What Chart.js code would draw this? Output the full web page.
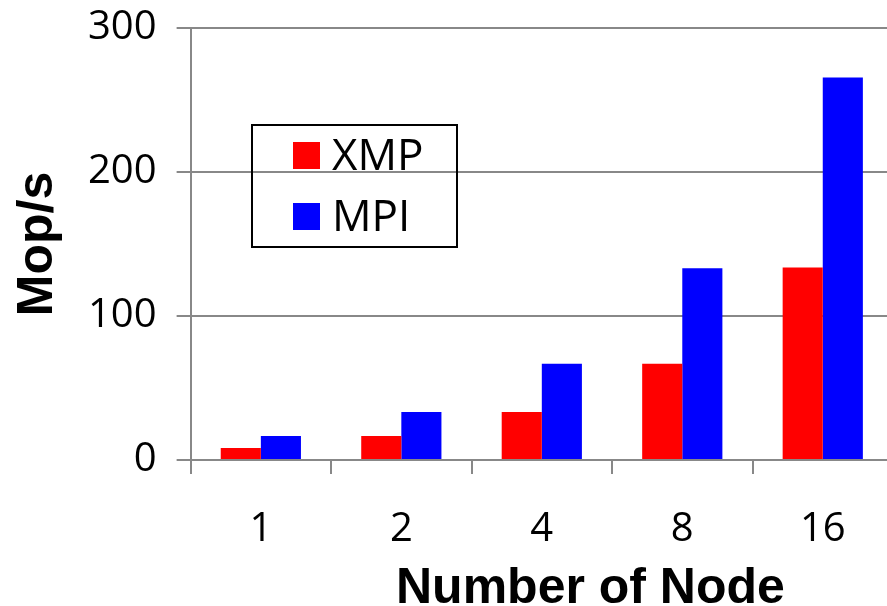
<!DOCTYPE html>
<html>
<head>
<meta charset="utf-8">
<script src="https://cdn.jsdelivr.net/npm/chart.js@4/dist/chart.umd.min.js"></script>
<style>
  html, body { margin: 0; padding: 0; background: #fff; overflow: hidden; }
  #wrap { position: absolute; left: 0; top: -16px; width: 900px; height: 635px; }
</style>
</head>
<body>
<div id="wrap"><canvas id="values"></canvas></div>
<script>
// chart data
var nodes = ['1', '2', '4', '8', '16'];
var xmpValues = [8.3, 16.7, 33.4, 66.8, 133.6];
var mpiValues = [16.7, 33.4, 66.8, 133.2, 265.7];
var yTicks = [0, 100, 200, 300];

// legend drawn as a boxed key inside the plot area (page coords -> canvas: +16 in y)
var boxLegend = {
	id: 'boxLegend',
	afterDatasetsDraw: function(chart) {
		var ctx = chart.ctx;
		var x = 252, y = 125 + 16, w = 205, h = 122;
		ctx.save();
		ctx.strokeStyle = '#000';
		ctx.lineWidth = 2;
		ctx.strokeRect(x, y, w, h);
		ctx.font = '44px "Open Sans"';
		ctx.textBaseline = 'middle';
		chart.data.datasets.forEach(function(ds, i) {
			var cy = y + 31 + i * 61;
			ctx.fillStyle = ds.backgroundColor;
			ctx.fillRect(x + 41, cy - 14, 27, 27);
			ctx.fillStyle = '#000';
			ctx.fillText(ds.label, x + 80, cy + 1);
		});
		ctx.restore();
	}
};

var chartdata = {
	labels: nodes,
	datasets: [
		{ label: 'XMP', backgroundColor: '#ff0000', data: xmpValues },
		{ label: 'MPI', backgroundColor: '#0000ff', data: mpiValues }
	]
};

var ctx = document.getElementById('values');
var barGraph = new Chart(ctx, {
	type: 'bar',
	data: chartdata,
	plugins: [boxLegend],
	options: {
		responsive: true,
		maintainAspectRatio: false,
		animation: false,
		categoryPercentage: 0.571,
		barPercentage: 1.0,
		layout: { padding: { top: 8, right: 7, left: 8, bottom: 0 } },
		plugins: {
			legend: { display: false },
			tooltip: { enabled: false }
		},
		scales: {
			x: {
				grid: { drawOnChartArea: false, color: '#888', lineWidth: 2, tickLength: 14, offset: true },
				border: { color: '#888', width: 2 },
				ticks: { color: '#000', font: { family: 'Open Sans', size: 40 }, padding: 32 },
				title: {
					display: true,
					// leading spaces push the centred title right, as in the original
					text: '\u00a0\u00a0\u00a0\u00a0\u00a0\u00a0\u00a0Number of Node',
					color: '#000',
					font: { family: 'Liberation Sans', size: 50, weight: 'bold' },
					padding: { top: -27, bottom: 0 }
				}
			},
			y: {
				min: 0, max: 300,
				afterBuildTicks: function(axis) {
					axis.ticks = yTicks.map(function(v) { return { value: v }; });
				},
				grid: { color: '#888', lineWidth: 2, tickLength: 14 },
				border: { color: '#888', width: 2 },
				ticks: { color: '#000', font: { family: 'Open Sans', size: 40 }, padding: 20 },
				title: {
					display: true, text: 'Mop/s', color: '#000',
					font: { family: 'Liberation Sans', size: 50, weight: 'bold' },
					padding: { top: 0, bottom: 0 }
				}
			}
		}
	}
});
</script>
</body>
</html>
